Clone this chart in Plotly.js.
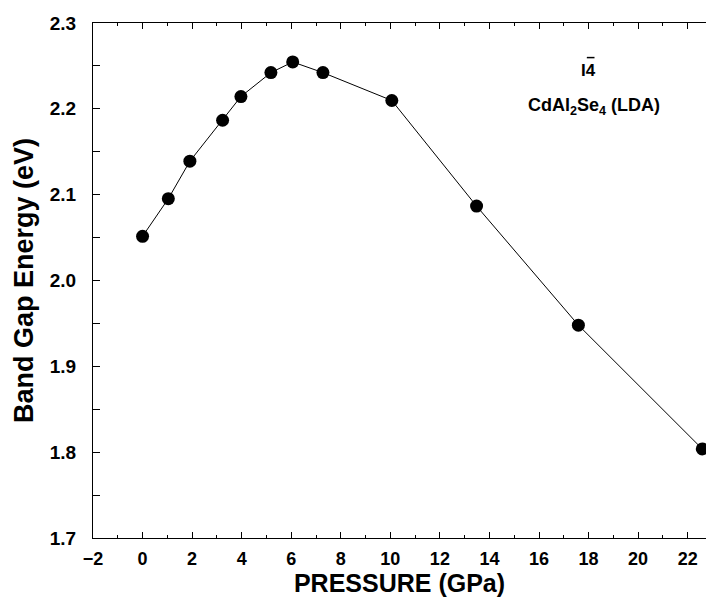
<!DOCTYPE html>
<html>
<head>
<meta charset="utf-8">
<script src="https://cdn.plot.ly/plotly-3.0.1.min.js"></script>
<style>
html,body{margin:0;padding:0;background:#fff;}
#chart{width:706px;height:598px;}
#chart .xtick text, #chart .ytick text, #chart .xtick tspan, #chart .ytick tspan{font-weight:700 !important;}
</style>
</head>
<body>
<div id="chart"></div>
<script>
// Data
const pressure = [0, 1.04, 1.91, 3.23, 3.97, 5.18, 6.06, 7.28, 10.06, 13.48, 17.59, 22.59];
const bandGap  = [2.0515, 2.0953, 2.139, 2.1867, 2.2143, 2.2422, 2.2546, 2.2422, 2.2097, 2.0867, 1.948, 1.8038];
const xTickVals = [-2, 0, 2, 4, 6, 8, 10, 12, 14, 16, 18, 20, 22];
const xTickText = ["\u22122", "0", "2", "4", "6", "8", "10", "12", "14", "16", "18", "20", "22"];
const yTickVals = [1.7, 1.8, 1.9, 2.0, 2.1, 2.2, 2.3];
const yTickText = ["1.7", "1.8", "1.9", "2.0", "2.1", "2.2", "2.3"];
const xTitle = "PRESSURE (GPa)";
const yTitle = "Band Gap Energy (eV)";
const labelPhase = "I4";
const labelCompound = "CdAl<sub>2</sub>Se<sub>4</sub> (LDA)";

const font = "Liberation Sans, Arial, Helvetica, sans-serif";
const bold = s => "<b>" + s + "</b>";

const trace = {
  x: pressure,
  y: bandGap,
  type: "scatter",
  mode: "lines+markers",
  line: {color: "#000", width: 1},
  marker: {color: "#000", size: 13, symbol: "circle"},
  cliponaxis: true,
  hoverinfo: "skip"
};

const layout = {
  width: 706,
  height: 598,
  margin: {l: 93, r: 0, t: 23, b: 60},
  paper_bgcolor: "#fff",
  plot_bgcolor: "#fff",
  showlegend: false,
  font: {family: font, color: "#000"},
  xaxis: {
    range: [-2, 22.74],
    tickmode: "array",
    tickvals: xTickVals,
    ticktext: xTickText,
    ticks: "inside",
    ticklen: 6,
    tickwidth: 1,
    tickcolor: "#000",
    minor: {dtick: 1, tick0: 0, ticks: "inside", ticklen: 3, tickcolor: "#000"},
    showline: true,
    linecolor: "#000",
    linewidth: 1,
    mirror: "ticks",
    showgrid: false,
    zeroline: false,
    tickfont: {family: font, size: 18, color: "#000", weight: 700},
    ticklabelstandoff: 4,
    title: {text: bold(xTitle), font: {family: font, size: 25, color: "#000"}, standoff: 2}
  },
  yaxis: {
    range: [1.7, 2.3],
    tickmode: "array",
    tickvals: yTickVals,
    ticktext: yTickText,
    ticks: "inside",
    ticklen: 7,
    tickwidth: 1,
    tickcolor: "#000",
    minor: {dtick: 0.05, tick0: 1.7, ticks: "inside", ticklen: 7, tickcolor: "#000"},
    showline: true,
    linecolor: "#000",
    linewidth: 1,
    mirror: false,
    showgrid: false,
    zeroline: false,
    tickfont: {family: font, size: 19, color: "#000", weight: 700},
    ticklabelstandoff: 12,
    title: {text: bold(yTitle), font: {family: font, size: 27, color: "#000"}, standoff: 8}
  },
  annotations: [
    {x: 17.98, y: 2.2445, xref: "x", yref: "y", text: bold(labelPhase), showarrow: false,
     font: {family: font, size: 17, color: "#000"}, xanchor: "center", yanchor: "middle"},
    {x: 18.2, y: 2.2027, xref: "x", yref: "y", text: bold(labelCompound), showarrow: false,
     font: {family: font, size: 18, color: "#000"}, xanchor: "center", yanchor: "middle"}
  ],
  shapes: [
    // overbar of the "4" in the space-group label I4̄
    {type: "line", xref: "x", yref: "y", x0: 17.93, x1: 18.24, y0: 2.2597, y1: 2.2597,
     line: {color: "#000", width: 1.5}}
  ]
};

Plotly.newPlot("chart", [trace], layout, {displayModeBar: false, staticPlot: true});
</script>
</body>
</html>
